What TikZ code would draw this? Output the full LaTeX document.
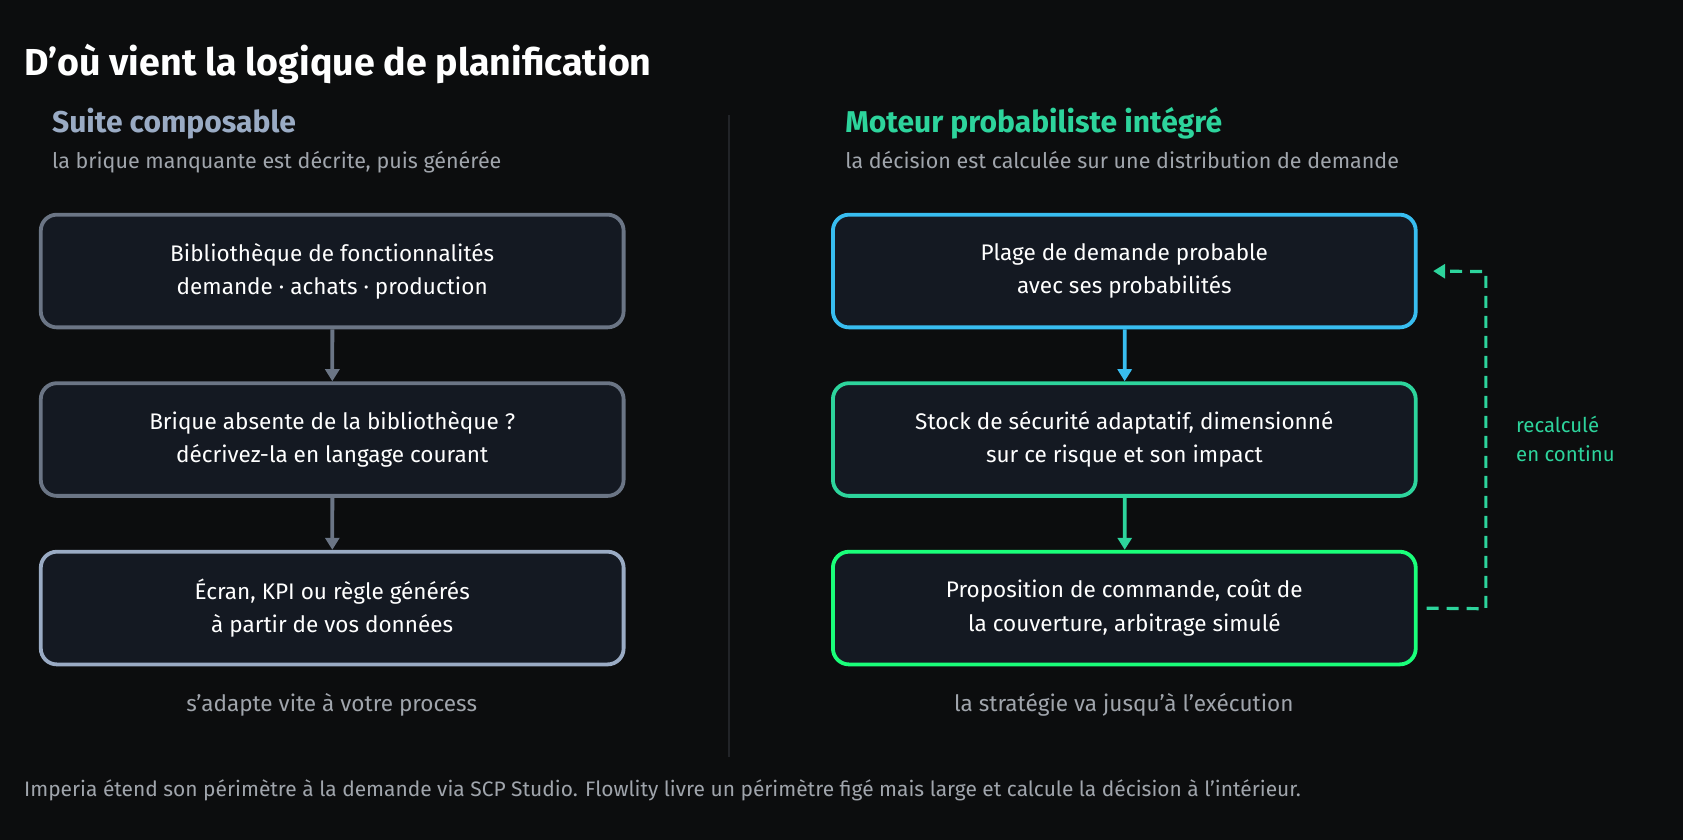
\documentclass[tikz,border=0pt]{standalone}
\usepackage{fontspec}
\setmainfont{Fira Sans}
\usetikzlibrary{arrows.meta}
\newcommand\aq{\char"27\relax}
\definecolor{bg}{HTML}{0C0D0E}
\definecolor{boxfill}{HTML}{141922}
\definecolor{grayb}{HTML}{6B7585}
\definecolor{lightb}{HTML}{9AABC4}
\definecolor{cyanb}{HTML}{38BDF0}
\definecolor{tealb}{HTML}{2DD49C}
\definecolor{greenb}{HTML}{1AFF7A}
\definecolor{subt}{HTML}{A0A5AC}
\definecolor{divc}{HTML}{222428}
\begin{document}
\begin{tikzpicture}[x=1pt,y=-1pt,scale=1.0733,every node/.append style={transform shape},
  box/.style={draw,line width=3.8pt,rounded corners=16pt,fill=boxfill,minimum width=543pt,minimum height=105pt,text=white,font=\fontsize{21}{31}\selectfont,align=center},
  arr/.style={line width=3.8pt,-{Triangle[length=12pt,width=14pt]}},
  sub/.style={text=subt,font=\fontsize{20}{24}\selectfont,anchor=base west},
  head/.style={font=\fontsize{28}{32}\selectfont\bfseries,anchor=base west}]
\fill[bg] (0,0) rectangle (1568,782.6);
\useasboundingbox (0,0) rectangle (1568,782.6);
\node[anchor=base west,text=white,font=\fontsize{35}{40}\selectfont\bfseries] (title) at (19,70) {D\aq où vient la logique de planification};
\draw[divc,line width=2pt] (679,107) -- (679,705);
\node[head,text=lightb] (lh) at (45,123) {Suite composable};
\node[sub] (ls) at (45,157) {la brique manquante est décrite, puis générée};
\node[head,text=tealb] (rh) at (784,123) {Moteur probabiliste intégré};
\node[sub] (rs) at (784,157) {la décision est calculée sur une distribution de demande};
\node[box,draw=grayb] (l1) at (309.5,252.5) {Bibliothèque de fonctionnalités\\demande · achats · production};
\node[box,draw=grayb] (l2) at (309.5,409.5) {Brique absente de la bibliothèque ?\\décrivez-la en langage courant};
\node[box,draw=lightb] (l3) at (309.5,566.5) {Écran, KPI ou règle générés\\à partir de vos données};
\draw[arr,grayb] (l1) -- (l2);
\draw[arr,grayb] (l2) -- (l3);
\node[box,draw=cyanb] (r1) at (1047.5,252.5) {Plage de demande probable\\avec ses probabilités};
\node[box,draw=tealb] (r2) at (1047.5,409.5) {Stock de sécurité adaptatif, dimensionné\\sur ce risque et son impact};
\node[box,draw=greenb] (r3) at (1047.5,566.5) {Proposition de commande, coût de\\la couverture, arbitrage simulé};
\draw[arr,cyanb] (r1) -- (r2);
\draw[arr,tealb] (r2) -- (r3);
\coordinate (c1) at (1384,567);
\coordinate (c2) at (1384,253);
\draw[tealb,line width=3.2pt,dash pattern=on 12pt off 8pt,-{Triangle[length=12pt,width=14pt]}] ([xshift=8pt]r3.east) -- (c1) -- (c2) -- ([xshift=14pt]r1.east);
\node[text=tealb,font=\fontsize{19}{27}\selectfont,align=left,anchor=west] (rc) at (1409,409) {recalculé\\en continu};
\node[text=subt,font=\fontsize{21}{24}\selectfont] (lc) at (309,657) {s\aq adapte vite à votre process};
\node[text=subt,font=\fontsize{21}{24}\selectfont] (rcap) at (1047,657) {la stratégie va jusqu\aq à l\aq exécution};
\node[sub,font=\fontsize{19.5}{24}\selectfont] (foot) at (19,742) {Imperia étend son périmètre à la demande via SCP Studio. Flowlity livre un périmètre figé mais large et calcule la décision à l\aq intérieur.};
\end{tikzpicture}
\end{document}
